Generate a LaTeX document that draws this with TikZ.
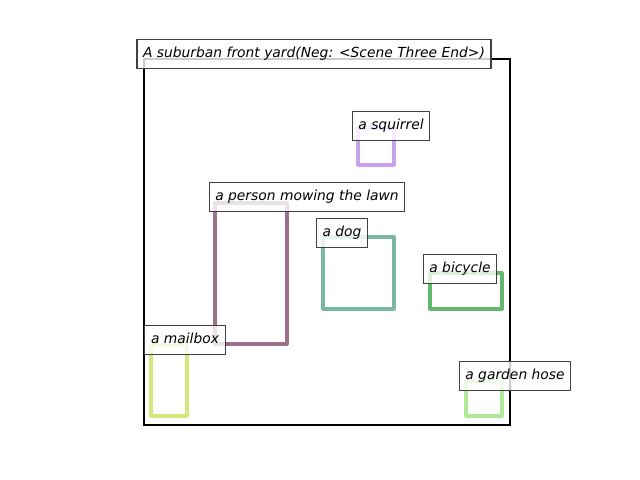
\documentclass[tikz,border=0pt]{standalone}
\usepackage{fontspec}
\setmainfont{DejaVu Sans}
\usepackage{xcolor}
\usetikzlibrary{positioning}

\definecolor{squirrelC}{HTML}{C9A0F0}
\definecolor{personC}{HTML}{9B6E8A}
\definecolor{dogC}{HTML}{78B9A0}
\definecolor{bicycleC}{HTML}{62B86C}
\definecolor{mailboxC}{HTML}{D6E67A}
\definecolor{hoseC}{HTML}{AEEA98}

\begin{document}
\begin{tikzpicture}[x=0.01in, y=-0.01in,
        objbox/.style={line width=2.2pt, line join=round},
        tag/.style={draw=black!75, line width=0.8pt, fill=white, fill opacity=0.8,
                    text opacity=1, font=\itshape\fontsize{10}{12}\selectfont,
                    inner xsep=4.4pt, text height=7.5pt, text depth=2pt, minimum height=20.5pt}]
        \useasboundingbox (0,0) rectangle (640,480);

        % scene frame
        \draw[line width=1.8pt] (144,59) rectangle (510,425);

        % object boxes
        \draw[objbox, squirrelC] (358,128) rectangle (394,165);
        \draw[objbox, personC]   (215,203) rectangle (287,344);
        \draw[objbox, dogC]      (323,237) rectangle (394,309);
        \draw[objbox, bicycleC]  (430,273) rectangle (502,309);
        \draw[objbox, mailboxC]  (151,345) rectangle (187,416);
        \draw[objbox, hoseC]     (466,381) rectangle (502,416);

        % labels
        \node[tag] (scene)    at (314,54)  {A suburban front yard(Neg: <Scene Three End>)};
        \node[tag] (squirrel) at (391,126) {a squirrel};
        \node[tag] (person)   at (307,197) {a person mowing the lawn};
        \node[tag] (dog)      at (342,233) {a dog};
        \node[tag] (bicycle)  at (460,269) {a bicycle};
        \node[tag] (mailbox)  at (185,340) {a mailbox};
        \node[tag] (hose)     at (515,376) {a garden hose};
\end{tikzpicture}
\end{document}
